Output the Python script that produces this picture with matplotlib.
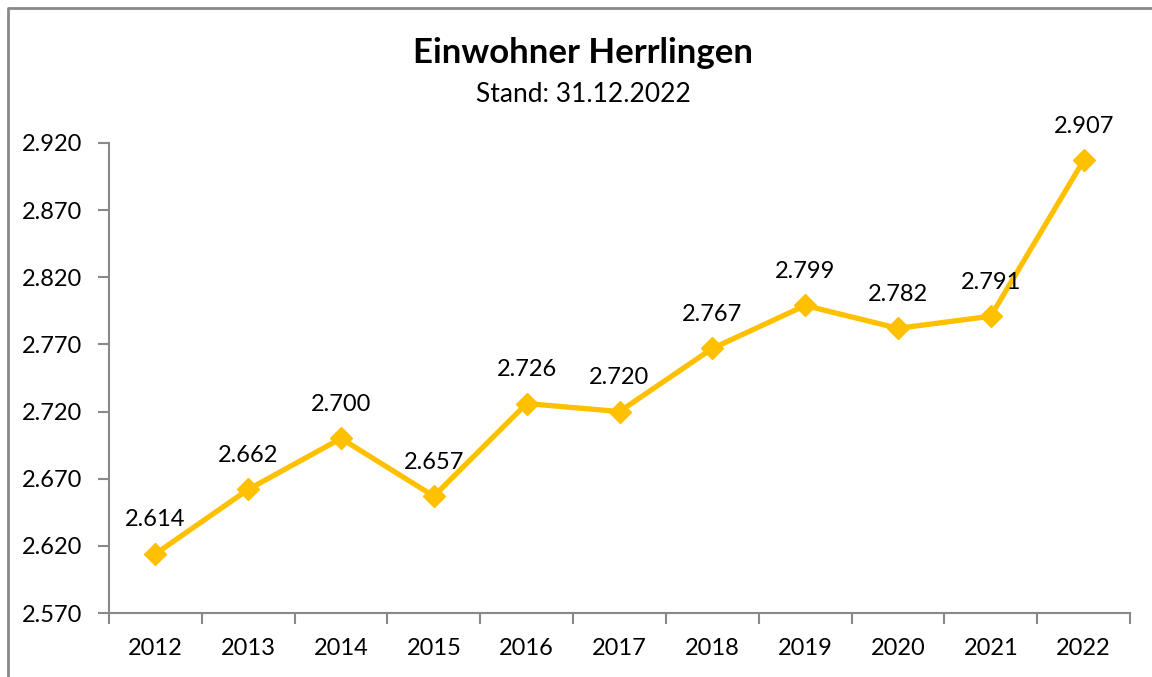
import matplotlib
matplotlib.use("Agg")
import matplotlib.pyplot as plt
from matplotlib.lines import Line2D

years = ["2012", "2013", "2014", "2015", "2016", "2017", "2018", "2019", "2020", "2021", "2022"]
values = [2614, 2662, 2700, 2657, 2726, 2720, 2767, 2799, 2782, 2791, 2907]
yticks = [2570, 2620, 2670, 2720, 2770, 2820, 2870, 2920]

def de(v):
    return f"{v:,}".replace(",", ".")

plt.rcParams['font.family'] = ['Lato', 'DejaVu Sans']
W, H = 1152, 677
fig = plt.figure(figsize=(W/100, H/100), dpi=100)
ax = fig.add_axes([109/W, (H-613)/H, (1130-109)/W, (613-143)/H])

x = list(range(len(years)))
ax.plot(x, values, color="#FFC000", lw=3.8, marker="D", markersize=11, zorder=3)
for xi, v in zip(x, values):
    ax.annotate(de(v), (xi, v), xytext=(0, 17), textcoords="offset points",
                ha="center", va="bottom", fontsize=17, color="black")

ax.set_xlim(-0.5, len(years)-0.5)
ax.set_ylim(2570, 2920)
ax.set_yticks(yticks)
ax.set_yticklabels([de(v) for v in yticks], fontsize=17)
ax.set_xticks(x)
ax.set_xticklabels(years, fontsize=17)
ax.set_xticks([i-0.5 for i in range(len(years)+1)], minor=True)
ax.tick_params(axis='x', which='major', length=0, pad=18)
ax.tick_params(axis='x', which='minor', length=8, width=1.5, color="#898989", direction='out')
ax.tick_params(axis='y', length=8, width=1.5, color="#898989", direction='out', pad=11)
for s in ['top', 'right']:
    ax.spines[s].set_visible(False)
for s in ['left', 'bottom']:
    ax.spines[s].set_color("#898989")
    ax.spines[s].set_linewidth(1.5)

fig.text(583/W, 1-53/H, "Einwohner Herrlingen", ha="center", va="center",
         fontsize=25, fontweight="bold")
fig.text(583/W, 1-95/H, "Stand: 31.12.2022", ha="center", va="center", fontsize=19)

fig.add_artist(Line2D([7.5/W, 7.5/W, 1], [0, 1-8/H, 1-8/H], transform=fig.transFigure,
                      color="#898989", lw=2))

fig.savefig("out.png", dpi=100)
